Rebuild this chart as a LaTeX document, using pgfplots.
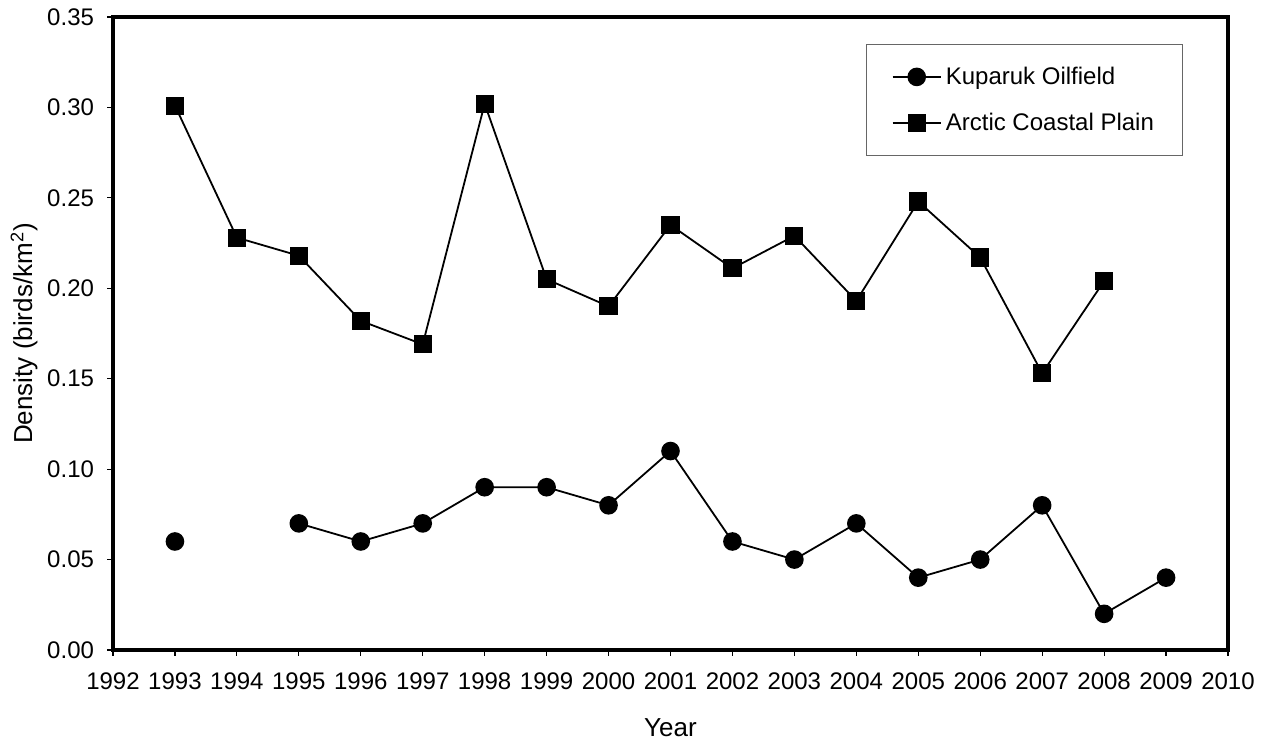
\documentclass[border=0pt]{standalone}
\usepackage{fontspec}
\setmainfont{Liberation Sans}
\usepackage{pgfplots}
\pgfplotsset{compat=1.18}

\begin{document}
\begin{tikzpicture}
\begin{axis}[
  scale only axis,
  width=557.5pt, height=316.5pt,
  xmin=1992, xmax=2010,
  ymin=0, ymax=0.35,
  xtick={1992,1993,...,2010},
  ytick={0,0.05,...,0.351},
  /pgf/number format/assume math mode=true,
  xticklabel style={/pgf/number format/1000 sep={}, yshift=-5pt},
  yticklabel style={/pgf/number format/fixed,/pgf/number format/fixed zerofill,/pgf/number format/precision=2, xshift=-3pt},
  tick label style={font=\fontsize{12}{14}\selectfont},
  label style={font=\fontsize{13}{15}\selectfont},
  tick align=outside,
  major tick length=3pt,
  tick style={black, line width=0.6pt},
  xtick pos=bottom, ytick pos=left,
  axis line style={line width=1.9pt},
  xlabel={Year},
  ylabel={Density (birds/km\textsuperscript{2})},
  xlabel style={yshift=-7.5pt},
  ylabel style={yshift=-2pt},
  unbounded coords=jump,
  legend style={
    at={(0.960,0.957)}, anchor=north east,
    draw=black!60, line width=0.5pt,
    font=\fontsize{12}{14}\selectfont,
    row sep=9pt,
    inner xsep=12.5pt, inner ysep=9pt,
    cells={anchor=west},
  },
  legend image code/.code={%
    \draw[mark repeat=2,mark phase=2,#1] plot coordinates {(0cm,0cm) (0.425cm,0cm) (0.85cm,0cm)};},
]
\path (rel axis cs:0,0) coordinate (bl) (rel axis cs:1,1) coordinate (tr);

% Kuparuk Oilfield (no survey in 1994)
\addplot[black, line width=0.9pt, mark=*, mark size=4.2pt, mark options={solid}] coordinates {
  (1993,0.06) (1994,nan) (1995,0.07) (1996,0.06) (1997,0.07) (1998,0.09)
  (1999,0.09) (2000,0.08) (2001,0.11) (2002,0.06) (2003,0.05) (2004,0.07)
  (2005,0.04) (2006,0.05) (2007,0.08) (2008,0.02) (2009,0.04)
};
\addlegendentry{Kuparuk Oilfield}

% Arctic Coastal Plain
\addplot[black, line width=0.9pt, mark=square*, mark size=4.1pt, mark options={solid}] coordinates {
  (1993,0.301) (1994,0.228) (1995,0.218) (1996,0.182) (1997,0.169) (1998,0.302)
  (1999,0.205) (2000,0.190) (2001,0.235) (2002,0.211) (2003,0.229) (2004,0.193)
  (2005,0.248) (2006,0.217) (2007,0.153) (2008,0.204)
};
\addlegendentry{Arctic Coastal Plain}
\end{axis}
\pgfresetboundingbox
\path ([shift={(-56.5pt,-46pt)}]bl) rectangle ([shift={(17pt,8.5pt)}]tr);
\end{tikzpicture}
\end{document}
